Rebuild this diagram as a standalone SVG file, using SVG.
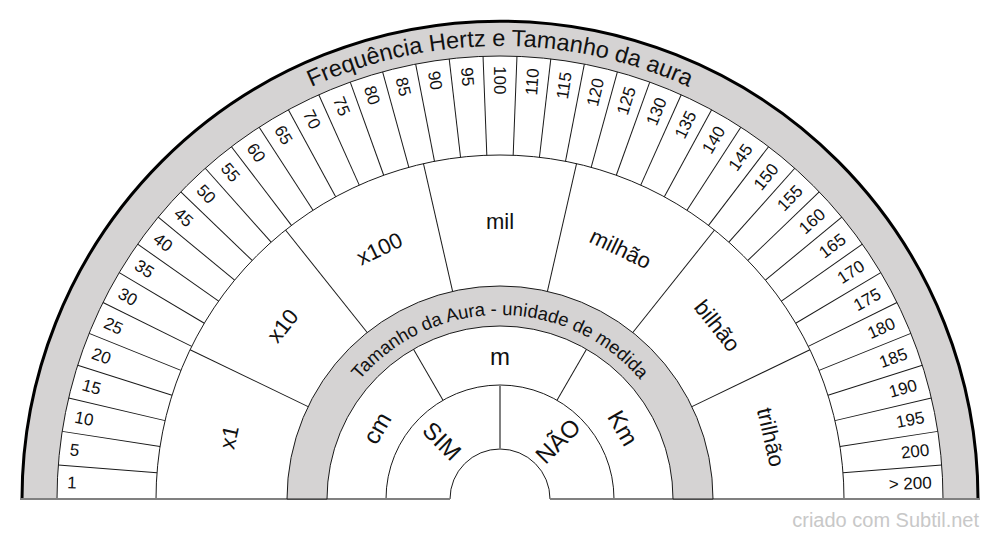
<svg xmlns="http://www.w3.org/2000/svg" width="1000" height="540" viewBox="0 0 1000 540">
<style>
text{font-family:"Liberation Sans",Arial,sans-serif;fill:#111}
.num{font-size:17px}
.mid{font-size:22px;text-anchor:middle}
.inn{font-size:24px;text-anchor:middle}
.ln{stroke:#1a1a1a;stroke-width:1;fill:none}
.band{fill:#d5d3d3;stroke:#1a1a1a;stroke-width:1}
.base{stroke:#808080;stroke-width:2}
</style>
<defs>
<line id="tk" class="ln" x1="57" y1="499" x2="156" y2="499"/>
<line id="mk" class="ln" x1="156" y1="499" x2="287" y2="499"/>
<line id="ik" class="ln" x1="327" y1="499" x2="386" y2="499"/>
<path id="arcT" d="M 47 499 A 453 453 0 0 1 953 499"/>
<path id="arcI" d="M 316 499 A 184 184 0 0 1 684 499"/>
</defs>
<rect width="1000" height="540" fill="#fff"/>
<g id="outer-band">
<path class="band" d="M 22 499 A 478 478 0 0 1 978 499 L 943 499 A 443 443 0 0 0 57 499 Z"/>
<path d="M 22 499 A 478 478 0 0 1 978 499" fill="none" stroke="#000" stroke-width="3"/>
<text font-size="23.5" text-anchor="middle"><textPath href="#arcT" startOffset="50%">Frequência Hertz e Tamanho da aura</textPath></text>
</g>
<g id="connectors">
<path class="ln" d="M 156 499 A 344 344 0 0 1 844 499"/>
<path class="ln" d="M 386 499 A 114 114 0 0 1 614 499"/>
<path class="ln" d="M 450 499 A 50 50 0 0 1 550 499"/>
<use href="#tk" transform="rotate(4.3902 500 499)"/>
<use href="#tk" transform="rotate(8.7805 500 499)"/>
<use href="#tk" transform="rotate(13.1707 500 499)"/>
<use href="#tk" transform="rotate(17.5610 500 499)"/>
<use href="#tk" transform="rotate(21.9512 500 499)"/>
<use href="#tk" transform="rotate(26.3415 500 499)"/>
<use href="#tk" transform="rotate(30.7317 500 499)"/>
<use href="#tk" transform="rotate(35.1220 500 499)"/>
<use href="#tk" transform="rotate(39.5122 500 499)"/>
<use href="#tk" transform="rotate(43.9024 500 499)"/>
<use href="#tk" transform="rotate(48.2927 500 499)"/>
<use href="#tk" transform="rotate(52.6829 500 499)"/>
<use href="#tk" transform="rotate(57.0732 500 499)"/>
<use href="#tk" transform="rotate(61.4634 500 499)"/>
<use href="#tk" transform="rotate(65.8537 500 499)"/>
<use href="#tk" transform="rotate(70.2439 500 499)"/>
<use href="#tk" transform="rotate(74.6341 500 499)"/>
<use href="#tk" transform="rotate(79.0244 500 499)"/>
<use href="#tk" transform="rotate(83.4146 500 499)"/>
<use href="#tk" transform="rotate(87.8049 500 499)"/>
<use href="#tk" transform="rotate(92.1951 500 499)"/>
<use href="#tk" transform="rotate(96.5854 500 499)"/>
<use href="#tk" transform="rotate(100.9756 500 499)"/>
<use href="#tk" transform="rotate(105.3659 500 499)"/>
<use href="#tk" transform="rotate(109.7561 500 499)"/>
<use href="#tk" transform="rotate(114.1463 500 499)"/>
<use href="#tk" transform="rotate(118.5366 500 499)"/>
<use href="#tk" transform="rotate(122.9268 500 499)"/>
<use href="#tk" transform="rotate(127.3171 500 499)"/>
<use href="#tk" transform="rotate(131.7073 500 499)"/>
<use href="#tk" transform="rotate(136.0976 500 499)"/>
<use href="#tk" transform="rotate(140.4878 500 499)"/>
<use href="#tk" transform="rotate(144.8780 500 499)"/>
<use href="#tk" transform="rotate(149.2683 500 499)"/>
<use href="#tk" transform="rotate(153.6585 500 499)"/>
<use href="#tk" transform="rotate(158.0488 500 499)"/>
<use href="#tk" transform="rotate(162.4390 500 499)"/>
<use href="#tk" transform="rotate(166.8293 500 499)"/>
<use href="#tk" transform="rotate(171.2195 500 499)"/>
<use href="#tk" transform="rotate(175.6098 500 499)"/>
<use href="#mk" transform="rotate(25.7143 500 499)"/>
<use href="#mk" transform="rotate(51.4286 500 499)"/>
<use href="#mk" transform="rotate(77.1429 500 499)"/>
<use href="#mk" transform="rotate(102.8571 500 499)"/>
<use href="#mk" transform="rotate(128.5714 500 499)"/>
<use href="#mk" transform="rotate(154.2857 500 499)"/>
<use href="#ik" transform="rotate(60 500 499)"/>
<use href="#ik" transform="rotate(120 500 499)"/>
<line class="base" x1="500" y1="449" x2="500" y2="385"/>
<line class="base" x1="20" y1="499" x2="450" y2="499"/>
<line class="base" x1="550" y1="499" x2="980" y2="499"/>
</g>
<g id="frequency-numbers" class="num">
<g text-anchor="start">
<text x="67" y="499" dy="0.35em" transform="rotate(2.1951 500 499)">1</text>
<text x="67" y="499" dy="0.35em" transform="rotate(6.5854 500 499)">5</text>
<text x="67" y="499" dy="0.35em" transform="rotate(10.9756 500 499)">10</text>
<text x="67" y="499" dy="0.35em" transform="rotate(15.3659 500 499)">15</text>
<text x="67" y="499" dy="0.35em" transform="rotate(19.7561 500 499)">20</text>
<text x="67" y="499" dy="0.35em" transform="rotate(24.1463 500 499)">25</text>
<text x="67" y="499" dy="0.35em" transform="rotate(28.5366 500 499)">30</text>
<text x="67" y="499" dy="0.35em" transform="rotate(32.9268 500 499)">35</text>
<text x="67" y="499" dy="0.35em" transform="rotate(37.3171 500 499)">40</text>
<text x="67" y="499" dy="0.35em" transform="rotate(41.7073 500 499)">45</text>
<text x="67" y="499" dy="0.35em" transform="rotate(46.0976 500 499)">50</text>
<text x="67" y="499" dy="0.35em" transform="rotate(50.4878 500 499)">55</text>
<text x="67" y="499" dy="0.35em" transform="rotate(54.8780 500 499)">60</text>
<text x="67" y="499" dy="0.35em" transform="rotate(59.2683 500 499)">65</text>
<text x="67" y="499" dy="0.35em" transform="rotate(63.6585 500 499)">70</text>
<text x="67" y="499" dy="0.35em" transform="rotate(68.0488 500 499)">75</text>
<text x="67" y="499" dy="0.35em" transform="rotate(72.4390 500 499)">80</text>
<text x="67" y="499" dy="0.35em" transform="rotate(76.8293 500 499)">85</text>
<text x="67" y="499" dy="0.35em" transform="rotate(81.2195 500 499)">90</text>
<text x="67" y="499" dy="0.35em" transform="rotate(85.6098 500 499)">95</text>
<text x="67" y="499" dy="0.35em" transform="rotate(90 500 499)">100</text>
</g>
<g text-anchor="end">
<text x="932" y="499" dy="0.35em" transform="rotate(-85.6098 500 499)">110</text>
<text x="932" y="499" dy="0.35em" transform="rotate(-81.2195 500 499)">115</text>
<text x="932" y="499" dy="0.35em" transform="rotate(-76.8293 500 499)">120</text>
<text x="932" y="499" dy="0.35em" transform="rotate(-72.4390 500 499)">125</text>
<text x="932" y="499" dy="0.35em" transform="rotate(-68.0488 500 499)">130</text>
<text x="932" y="499" dy="0.35em" transform="rotate(-63.6585 500 499)">135</text>
<text x="932" y="499" dy="0.35em" transform="rotate(-59.2683 500 499)">140</text>
<text x="932" y="499" dy="0.35em" transform="rotate(-54.8780 500 499)">145</text>
<text x="932" y="499" dy="0.35em" transform="rotate(-50.4878 500 499)">150</text>
<text x="932" y="499" dy="0.35em" transform="rotate(-46.0976 500 499)">155</text>
<text x="932" y="499" dy="0.35em" transform="rotate(-41.7073 500 499)">160</text>
<text x="932" y="499" dy="0.35em" transform="rotate(-37.3171 500 499)">165</text>
<text x="932" y="499" dy="0.35em" transform="rotate(-32.9268 500 499)">170</text>
<text x="932" y="499" dy="0.35em" transform="rotate(-28.5366 500 499)">175</text>
<text x="932" y="499" dy="0.35em" transform="rotate(-24.1463 500 499)">180</text>
<text x="932" y="499" dy="0.35em" transform="rotate(-19.7561 500 499)">185</text>
<text x="932" y="499" dy="0.35em" transform="rotate(-15.3659 500 499)">190</text>
<text x="932" y="499" dy="0.35em" transform="rotate(-10.9756 500 499)">195</text>
<text x="932" y="499" dy="0.35em" transform="rotate(-6.5854 500 499)">200</text>
<text x="932" y="499" dy="0.35em" transform="rotate(-2.1951 500 499)">&gt; 200</text>
</g>
</g>
<g id="multipliers">
<text class="mid" x="500" y="221" dy="0.35em" transform="rotate(-77.1429 500 499)">x1</text>
<text class="mid" x="500" y="221" dy="0.35em" transform="rotate(-51.4286 500 499)">x10</text>
<text class="mid" x="500" y="221" dy="0.35em" transform="rotate(-25.7143 500 499)">x100</text>
<text class="mid" x="500" y="221" dy="0.35em">mil</text>
<text class="mid" x="500" y="221" dy="0.35em" transform="rotate(25.7143 500 499)">milhão</text>
<text class="mid" x="500" y="221" dy="0.35em" transform="rotate(51.4286 500 499)">bilhão</text>
<text class="mid" x="500" y="221" dy="0.35em" transform="rotate(77.1429 500 499)">trilhão</text>
</g>
<g id="unit-band">
<path class="band" d="M 287 499 A 213 213 0 0 1 713 499 L 673 499 A 173 173 0 0 0 327 499 Z"/>
<text font-size="18.5" text-anchor="middle"><textPath href="#arcI" startOffset="50%">Tamanho da Aura - unidade de medida</textPath></text>
</g>
<g id="units">
<text class="inn" x="500" y="357" dy="0.35em" transform="rotate(-60 500 499)">cm</text>
<text class="inn" x="500" y="357" dy="0.35em">m</text>
<text class="inn" x="500" y="357" dy="0.35em" transform="rotate(60 500 499)">Km</text>
</g>
<g id="answers">
<text class="inn" x="418" y="499" dy="0.35em" transform="rotate(45 500 499)">SIM</text>
<text class="inn" x="582" y="499" dy="0.35em" transform="rotate(-45 500 499)">NÃO</text>
</g>
<text x="979" y="527" font-size="20" text-anchor="end" style="fill:#c8c8c8">criado com Subtil.net</text>
</svg>
